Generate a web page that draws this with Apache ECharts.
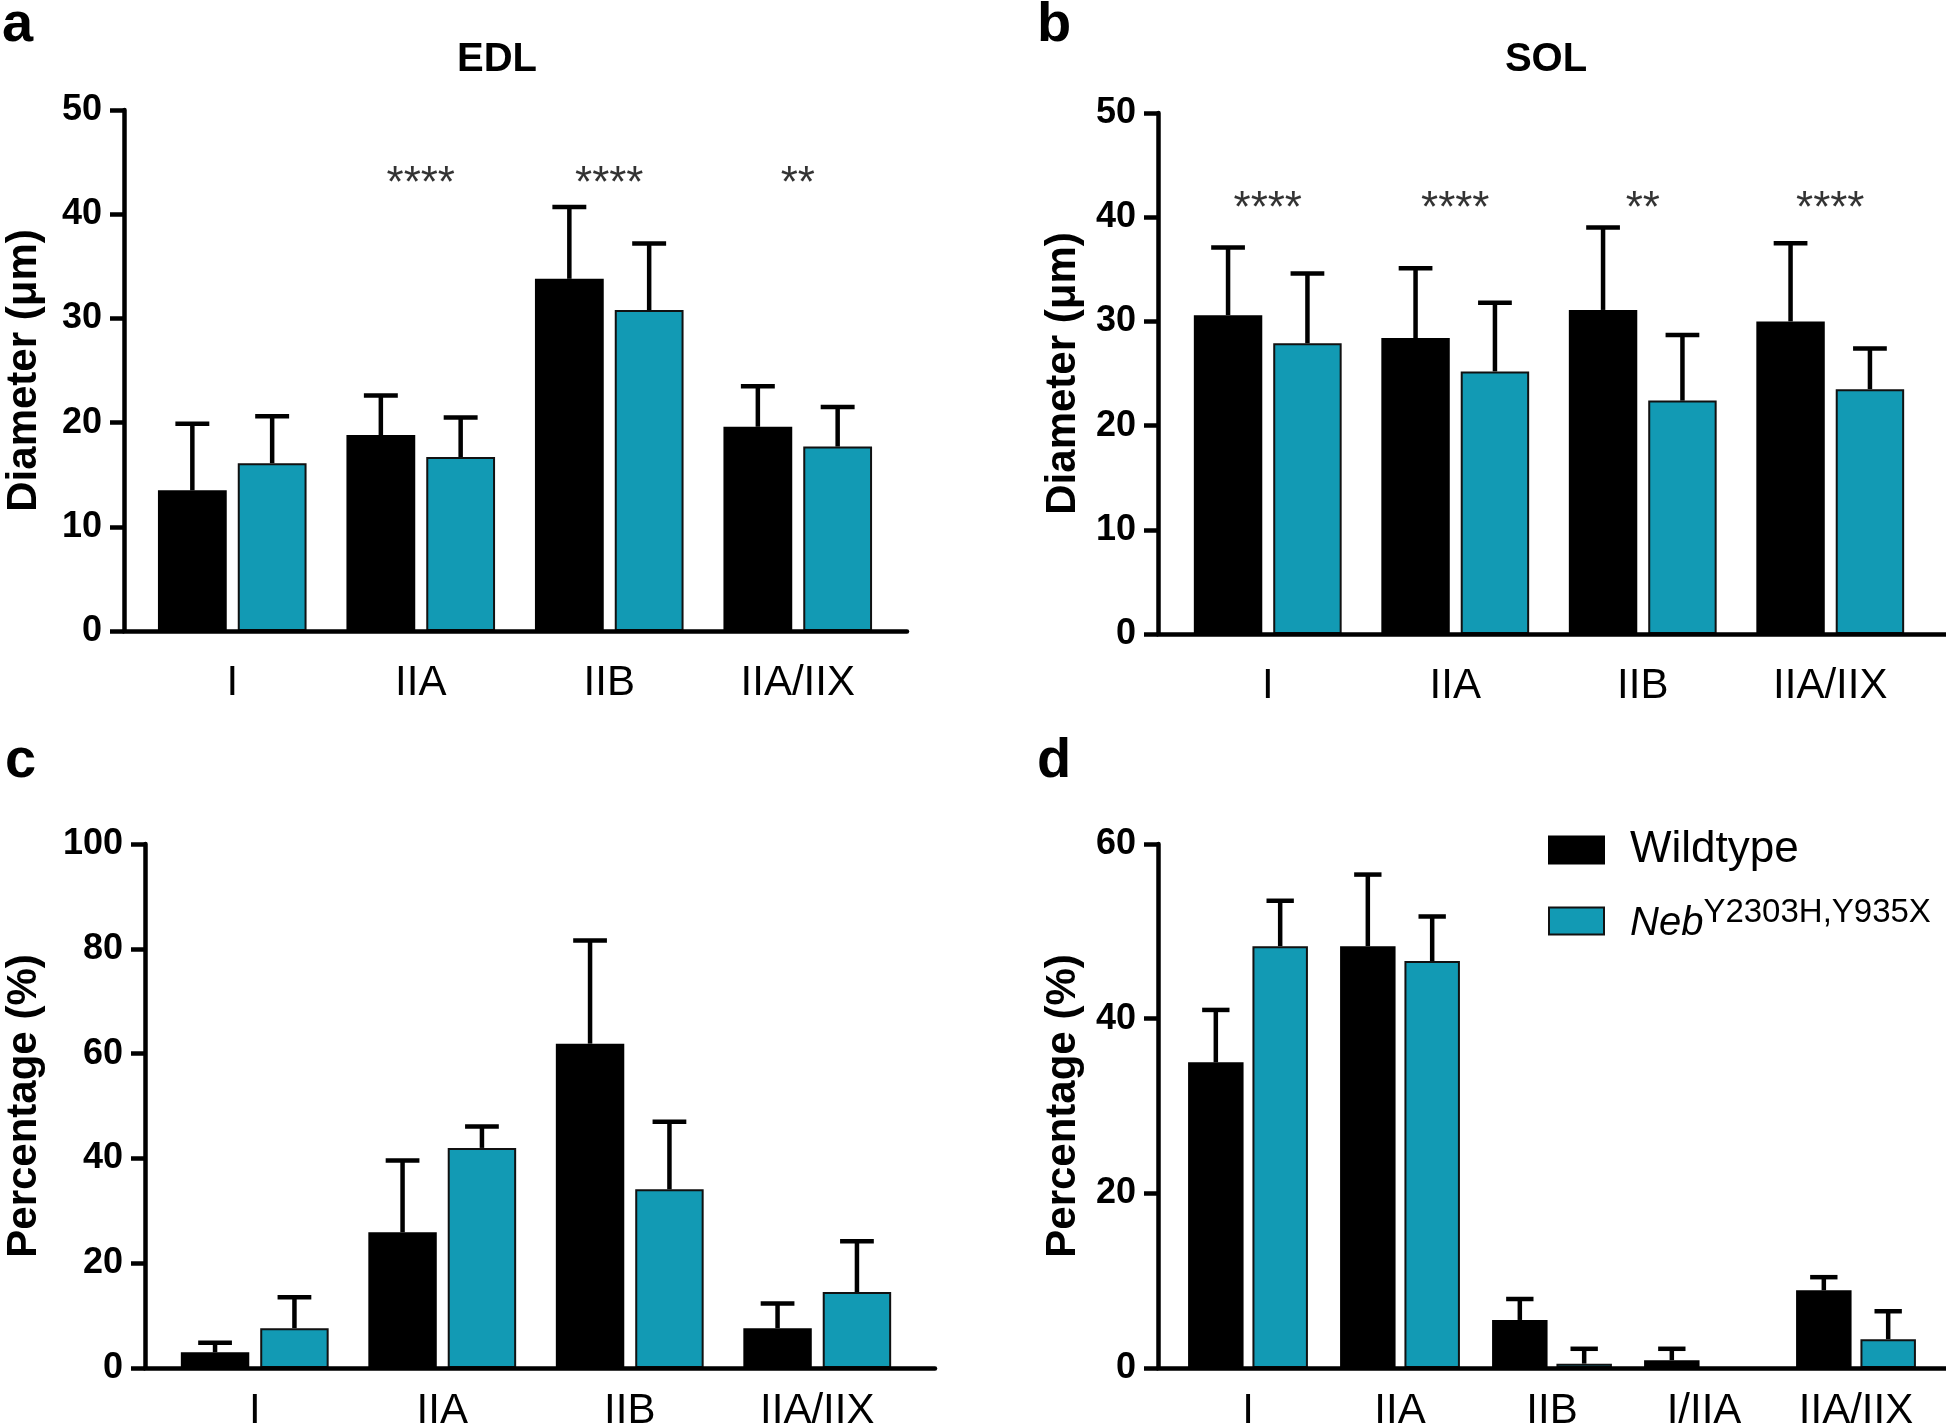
<!DOCTYPE html>
<html>
<head>
<meta charset="utf-8">
<script src="https://cdn.jsdelivr.net/npm/echarts@6/dist/echarts.min.js"></script>
<style>
  html, body { margin: 0; padding: 0; background: #fff; }
  #chart { width: 1946px; height: 1425px; }
</style>
</head>
<body>
<div id="chart"></div>
<script>
// ---- data ----
const fiberTypes = ['I', 'IIA', 'IIB', 'IIA/IIX'];
const fiberTypesSol = ['I', 'IIA', 'IIB', 'I/IIA', 'IIA/IIX'];

// a: EDL diameter (um)
const edlWt = [13.5, 18.8, 33.8, 19.6];
const edlWtSd = [6.4, 3.8, 6.9, 3.9];
const edlNeb = [16.1, 16.7, 30.8, 17.7];
const edlNebSd = [4.5, 3.8, 6.4, 3.8];
const edlStars = ['', '****', '****', '**'];

// b: SOL diameter (um)
const solWt = [30.6, 28.4, 31.1, 30.0];
const solWtSd = [6.5, 6.7, 7.9, 7.5];
const solNeb = [27.9, 25.2, 22.4, 23.5];
const solNebSd = [6.7, 6.6, 6.3, 3.9];
const solStars = ['****', '****', '**', '****'];

// c: EDL fiber type percentage
const edlPctWt = [3.0, 25.9, 61.9, 7.6];
const edlPctWtSd = [1.8, 13.7, 19.7, 4.7];
const edlPctNeb = [7.6, 42.0, 34.1, 14.5];
const edlPctNebSd = [5.9, 4.1, 12.9, 9.7];

// d: SOL fiber type percentage
const solPctWt = [35.0, 48.3, 5.5, 0.9, 8.9];
const solPctWtSd = [6.0, 8.2, 2.4, 1.3, 1.5];
const solPctNeb = [48.3, 46.6, 0.5, null, 3.3];
const solPctNebSd = [5.2, 5.1, 1.7, null, 3.2];

const WT = 'Wildtype';
const NEB = 'Neb Y2303H,Y935X';
const TEAL = '#129AB4';
const FONT = 'Liberation Sans, Arial, sans-serif';
const LW = 4.5;
const BAR_W = 0.365, BAR_GAP = 0.16, CAP = 0.18;

const panels = [
  { cats: fiberTypes, wt: edlWt, wtSd: edlWtSd, neb: edlNeb, nebSd: edlNebSd,
    stars: edlStars, starY: 42.8, max: 50, step: 10, yName: 'Diameter (μm)',
    outer: { left: 124, right: 1039, top: 110, bottom: 794 }, inner: { left: 138, right: 1054 },
    nameGap: 79, labelMargin: 31 },
  { cats: fiberTypes, wt: solWt, wtSd: solWtSd, neb: solNeb, nebSd: solNebSd,
    stars: solStars, starY: 40.7, max: 50, step: 10, yName: 'Diameter (μm)',
    outer: { left: 1158, right: 0, top: 113, bottom: 791 }, inner: { left: 1174, right: 22 },
    nameGap: 74, labelMargin: 31 },
  { cats: fiberTypes, wt: edlPctWt, wtSd: edlPctWtSd, neb: edlPctNeb, nebSd: edlPctNebSd,
    stars: null, max: 100, step: 20, yName: 'Percentage (%)',
    outer: { left: 145, right: 1011, top: 844, bottom: 57 }, inner: { left: 161, right: 1035 },
    nameGap: 100, labelMargin: 22 },
  { cats: fiberTypesSol, wt: solPctWt, wtSd: solPctWtSd, neb: solPctNeb, nebSd: solPctNebSd,
    stars: null, max: 60, step: 20, yName: 'Percentage (%)',
    outer: { left: 1158, right: 0, top: 844, bottom: 57 }, inner: { left: 1172, right: 14 },
    nameGap: 74, labelMargin: 22 }
];

// upper error bar with cap, shifted onto the left (wt) or right (neb) bar
function renderErr(params, api) {
  const cat = api.value(0), mean = api.value(1), top = api.value(2), side = api.value(3);
  const band = api.size([1, 0])[0];
  const off = (side ? 1 : -1) * band * BAR_W * (1 + BAR_GAP) / 2;
  const p0 = api.coord([cat, mean]);
  const p1 = api.coord([cat, top]);
  const x = p0[0] + off;
  const half = band * CAP / 2;
  const st = { stroke: '#000', lineWidth: LW };
  return {
    type: 'group',
    children: [
      { type: 'line', shape: { x1: x, y1: p0[1], x2: x, y2: p1[1] }, style: st },
      { type: 'line', shape: { x1: x - half, y1: p1[1], x2: x + half, y2: p1[1] }, style: st }
    ]
  };
}

const grid = [], xAxis = [], yAxis = [], series = [];

panels.forEach(p => {
  const g = grid.length;
  grid.push({ left: p.outer.left, right: p.outer.right, top: p.outer.top, bottom: p.outer.bottom,
              containLabel: false, outerBoundsMode: 'none' });
  grid.push({ left: p.inner.left, right: p.inner.right, top: p.outer.top, bottom: p.outer.bottom,
              containLabel: false, outerBoundsMode: 'none' });

  // outer: axis lines, y ticks and labels
  xAxis.push({
    gridIndex: g, type: 'value', min: 0, max: 1, z: 5,
    axisLine: { show: true, onZero: false, lineStyle: { color: '#000', width: LW } },
    axisTick: { show: false }, axisLabel: { show: false }, splitLine: { show: false }
  });
  yAxis.push({
    gridIndex: g, type: 'value', min: 0, max: p.max, interval: p.step, z: 5,
    name: p.yName, nameLocation: 'middle', nameGap: p.nameGap,
    nameTextStyle: { fontFamily: FONT, fontWeight: 'bold', fontSize: 42, color: '#000' },
    axisLine: { show: true, lineStyle: { color: '#000', width: LW } },
    axisTick: { show: true, length: 14, lineStyle: { color: '#000', width: LW } },
    axisLabel: { fontFamily: FONT, fontWeight: 'bold', fontSize: 36, color: '#000', margin: 22 },
    splitLine: { show: false }
  });

  // inner: the category bands the bars sit in
  const xi = xAxis.length;
  xAxis.push({
    gridIndex: g + 1, type: 'category', data: p.cats,
    axisLine: { show: false }, axisTick: { show: false },
    axisLabel: { fontFamily: FONT, fontSize: 42, color: '#000', margin: p.labelMargin, interval: 0 }
  });
  const yi = yAxis.length;
  yAxis.push({ gridIndex: g + 1, type: 'value', min: 0, max: p.max, show: false });

  series.push({
    type: 'bar', name: WT, xAxisIndex: xi, yAxisIndex: yi, data: p.wt,
    barWidth: (BAR_W * 100) + '%', barGap: (BAR_GAP * 100) + '%',
    itemStyle: { color: '#000', borderColor: '#000', borderWidth: 2 }
  });
  series.push({
    type: 'bar', name: NEB, xAxisIndex: xi, yAxisIndex: yi, data: p.neb,
    barWidth: (BAR_W * 100) + '%', barGap: (BAR_GAP * 100) + '%',
    itemStyle: { color: TEAL, borderColor: '#111', borderWidth: 2 }
  });

  const errData = [];
  p.cats.forEach((c, i) => {
    if (p.wt[i] != null && p.wtSd[i] != null) errData.push([i, p.wt[i], p.wt[i] + p.wtSd[i], 0]);
    if (p.neb[i] != null && p.nebSd[i] != null) errData.push([i, p.neb[i], p.neb[i] + p.nebSd[i], 1]);
  });
  series.push({
    type: 'custom', xAxisIndex: xi, yAxisIndex: yi, renderItem: renderErr,
    data: errData, z: 3, silent: true
  });

  if (p.stars) {
    const starData = [];
    p.stars.forEach((s, i) => { if (s) starData.push([i, p.starY, s]); });
    series.push({
      type: 'scatter', xAxisIndex: xi, yAxisIndex: yi, symbolSize: 0, silent: true,
      data: starData,
      label: {
        show: true, position: 'inside', formatter: d => d.value[2],
        fontFamily: FONT, fontSize: 44, color: '#000'
      }
    });
  }
});

const textEl = (txt, x, y, size, align) => ({
  type: 'text', x: x, y: y,
  style: { text: txt, fontFamily: FONT, fontWeight: 'bold', fontSize: size, fill: '#000',
           textAlign: align || 'left', textVerticalAlign: 'middle' }
});

const chart = echarts.init(document.getElementById('chart'), null, { renderer: 'canvas' });
chart.setOption({
  animation: false,
  backgroundColor: '#fff',
  grid: grid,
  xAxis: xAxis,
  yAxis: yAxis,
  series: series,
  legend: {
    orient: 'vertical', left: 1543, top: 823,
    icon: 'rect', itemWidth: 55, itemHeight: 27, itemGap: 24,
    data: [WT, NEB],
    selectedMode: false,
    // italic gene name with superscript alleles
    formatter: n => n === WT ? '{w|Wildtype}' : '{it|Neb}{sup|Y2303H,Y935X}',
    textStyle: {
      color: '#000',
      rich: {
        w: { fontFamily: FONT, fontSize: 44, lineHeight: 44, padding: [0, 0, 0, 21] },
        it: { fontFamily: FONT, fontSize: 40, fontStyle: 'italic', lineHeight: 40, padding: [8, 0, 2, 21] },
        sup: { fontFamily: FONT, fontSize: 33, lineHeight: 33, padding: [0, 0, 17, 0] }
      }
    }
  },
  graphic: [
    textEl('a', 2, 26, 56),
    textEl('b', 1037, 26, 56),
    textEl('c', 5, 762, 56),
    textEl('d', 1037, 762, 56),
    textEl('EDL', 497, 60, 40, 'center'),
    textEl('SOL', 1546, 60, 40, 'center')
  ]
});
</script>
</body>
</html>
